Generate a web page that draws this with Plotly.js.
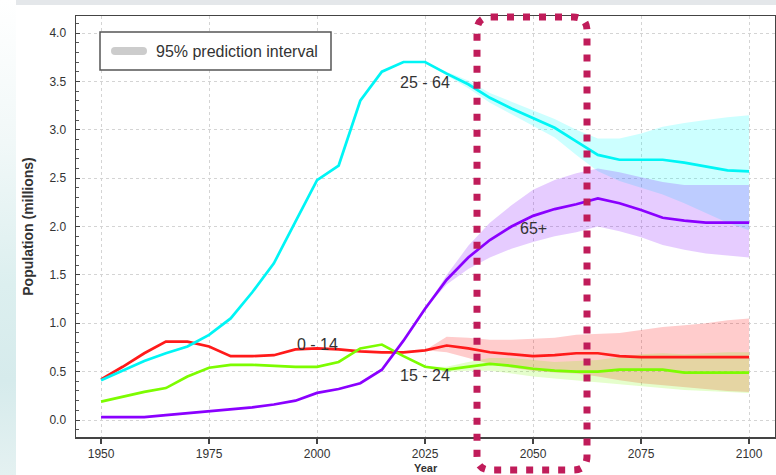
<!DOCTYPE html>
<html>
<head>
<meta charset="utf-8">
<script src="https://cdn.plot.ly/plotly-3.0.1.min.js"></script>
<style>
  html, body { margin: 0; padding: 0; background: #ffffff; }
  #wrap { position: relative; width: 776px; height: 475px; overflow: hidden; }
  #strip { position: absolute; left: 0; top: 0; width: 16px; height: 475px;
    background: linear-gradient(to bottom, #ffffff 0%, #f1f8f8 30%, #dcefef 60%, #d6ebec 80%, #e4f1f1 100%); }
  #topbar { position: absolute; left: 16px; top: 0; width: 760px; height: 5px; background: #e4e7ea; }
  #chart { position: absolute; left: 0; top: 0; width: 776px; height: 475px; }
</style>
</head>
<body>
<div id="wrap">
  <div id="strip"></div>
  <div id="topbar"></div>
  <div id="chart"></div>
</div>
<script>
// Population by age group (millions), estimates and projections
const years = [1950, 1955, 1960, 1965, 1970, 1975, 1980, 1985, 1990, 1995, 2000, 2005, 2010, 2015, 2020,
               2025, 2030, 2035, 2040, 2045, 2050, 2055, 2060, 2065, 2070, 2075, 2080, 2085, 2090, 2095, 2100];

const age0to14 = [0.42, 0.55, 0.69, 0.81, 0.81, 0.76, 0.66, 0.66, 0.67, 0.73, 0.74, 0.73, 0.71, 0.70, 0.70,
                  0.72, 0.77, 0.74, 0.70, 0.68, 0.66, 0.67, 0.69, 0.69, 0.66, 0.65, 0.65, 0.65, 0.65, 0.65, 0.65];
const age15to24 = [0.19, 0.24, 0.29, 0.33, 0.45, 0.54, 0.57, 0.57, 0.56, 0.55, 0.55, 0.60, 0.74, 0.78, 0.66,
                   0.55, 0.52, 0.55, 0.58, 0.56, 0.53, 0.51, 0.50, 0.50, 0.52, 0.52, 0.52, 0.49, 0.49, 0.49, 0.49];
const age25to64 = [0.41, 0.51, 0.61, 0.69, 0.76, 0.88, 1.05, 1.32, 1.62, 2.05, 2.48, 2.63, 3.30, 3.60, 3.70,
                   3.70, 3.58, 3.47, 3.33, 3.22, 3.12, 3.02, 2.88, 2.74, 2.69, 2.69, 2.69, 2.66, 2.62, 2.58, 2.57];
const age65plus = [0.03, 0.03, 0.03, 0.05, 0.07, 0.09, 0.11, 0.13, 0.16, 0.20, 0.28, 0.32, 0.38, 0.52, 0.82,
                   1.15, 1.45, 1.68, 1.86, 2.00, 2.11, 2.18, 2.23, 2.29, 2.24, 2.17, 2.09, 2.06, 2.04, 2.04, 2.04];

// 95% prediction intervals for the projection period
const bandYears = [2025, 2030, 2035, 2040, 2045, 2050, 2055, 2060, 2065, 2070, 2075, 2080, 2085, 2090, 2095, 2100];
const lo0to14  = [0.72, 0.70, 0.64, 0.58, 0.54, 0.51, 0.49, 0.48, 0.45, 0.41, 0.38, 0.36, 0.34, 0.32, 0.30, 0.29];
const hi0to14  = [0.72, 0.86, 0.85, 0.83, 0.83, 0.84, 0.85, 0.88, 0.89, 0.90, 0.93, 0.96, 0.98, 1.00, 1.03, 1.05];
const lo15to24 = [0.55, 0.50, 0.51, 0.51, 0.48, 0.45, 0.43, 0.41, 0.39, 0.37, 0.35, 0.33, 0.31, 0.30, 0.29, 0.28];
const hi15to24 = [0.55, 0.55, 0.60, 0.64, 0.64, 0.62, 0.60, 0.61, 0.62, 0.65, 0.68, 0.69, 0.68, 0.69, 0.70, 0.70];
const lo25to64 = [3.70, 3.56, 3.43, 3.28, 3.16, 3.04, 2.92, 2.74, 2.57, 2.47, 2.40, 2.33, 2.24, 2.14, 2.04, 1.96];
const hi25to64 = [3.70, 3.60, 3.51, 3.38, 3.29, 3.20, 3.11, 3.00, 2.91, 2.91, 2.96, 3.03, 3.07, 3.10, 3.13, 3.15];
const lo65plus = [1.15, 1.40, 1.56, 1.68, 1.77, 1.84, 1.90, 1.94, 2.00, 1.95, 1.89, 1.81, 1.76, 1.72, 1.70, 1.68];
const hi65plus = [1.15, 1.50, 1.80, 2.04, 2.22, 2.38, 2.48, 2.55, 2.60, 2.56, 2.51, 2.46, 2.43, 2.43, 2.43, 2.43];

const groupLabels = ['0 - 14', '15 - 24', '25 - 64', '65+'];
const intervalLabel = '95% prediction interval';
const xTitle = 'Year';
const yTitle = 'Population (millions)';
const xTicks = [1950, 1975, 2000, 2025, 2050, 2075, 2100];

const FONT = '"Liberation Sans", Arial, sans-serif';
const TEXT = '#333333';

// plot-area geometry in pixels
const W = 776, H = 475;
const M = { l: 76, r: 1, t: 16, b: 38 };
const pw = W - M.l - M.r, ph = H - M.t - M.b;
const px = x => (x - M.l) / pw;
const py = y => (H - M.b - y) / ph;

const groups = [
  { name: groupLabels[0], y: age0to14,  lo: lo0to14,  hi: hi0to14,  line: '#ff1a1a', fill: 'rgba(255,0,0,0.2)' },
  { name: groupLabels[1], y: age15to24, lo: lo15to24, hi: hi15to24, line: '#7cfc00', fill: 'rgba(124,252,0,0.2)' },
  { name: groupLabels[2], y: age25to64, lo: lo25to64, hi: hi25to64, line: '#00f5f5', fill: 'rgba(0,255,255,0.2)' },
  { name: groupLabels[3], y: age65plus, lo: lo65plus, hi: hi65plus, line: '#8a00ff', fill: 'rgba(130,0,255,0.2)' }
];

const traces = [];
groups.forEach(g => {
  traces.push({ x: bandYears, y: g.lo, mode: 'lines', line: { width: 0 }, showlegend: false, hoverinfo: 'skip' });
  traces.push({ x: bandYears, y: g.hi, mode: 'lines', line: { width: 0 }, fill: 'tonexty',
                fillcolor: g.fill, showlegend: false, hoverinfo: 'skip' });
});
groups.forEach(g => {
  traces.push({ x: years, y: g.y, name: g.name, mode: 'lines',
                line: { color: g.line, width: 2.7 }, showlegend: false });
});

// rounded-rectangle path in paper coordinates from pixel corners
function roundRect(x0p, y0p, x1p, y1p, r) {
  const a = px(x0p), b = px(x1p), top = py(y0p), bot = py(y1p);
  const rx = r / pw, ry = r / ph;
  return `M ${a + rx},${top} L ${b - rx},${top} Q ${b},${top} ${b},${top - ry} ` +
         `L ${b},${bot + ry} Q ${b},${bot} ${b - rx},${bot} ` +
         `L ${a + rx},${bot} Q ${a},${bot} ${a},${bot + ry} ` +
         `L ${a},${top - ry} Q ${a},${top} ${a + rx},${top} Z`;
}

const shapes = [
  // key box for the shaded intervals
  { type: 'rect', xref: 'paper', yref: 'paper', x0: px(100), x1: px(331), y0: py(70), y1: py(32),
    fillcolor: '#ffffff', line: { color: '#555555', width: 1.5 }, layer: 'above' },
  { type: 'path', xref: 'paper', yref: 'paper', path: roundRect(111, 47, 147, 55, 4),
    fillcolor: '#cccccc', line: { width: 0 }, layer: 'above' },
  // dotted frame around 2040-2060
  { type: 'path', xref: 'paper', yref: 'paper', path: roundRect(477, 17, 587, 470, 14), layer: 'above',
    line: { color: '#c01c5a', width: 7, dash: '7px,9px' } }
];

const labelPos = [[2000, 0.78], [2025, 0.46], [2025, 3.49], [2050, 1.98]];
const annotations = groupLabels.map((t, i) => ({
  x: labelPos[i][0], y: labelPos[i][1], xref: 'x', yref: 'y', text: t, showarrow: false,
  font: { family: FONT, size: 16, color: TEXT }
}));
annotations.push({
  x: px(154), y: py(51), xref: 'paper', yref: 'paper', xanchor: 'left', yanchor: 'middle',
  text: intervalLabel, showarrow: false, font: { family: FONT, size: 16, color: TEXT }
});
// x-axis title at the very bottom of the figure
annotations.push({
  x: 0.5, y: py(475), xref: 'paper', yref: 'paper', xanchor: 'center', yanchor: 'bottom',
  text: '<b>' + xTitle + '</b>', showarrow: false, borderpad: 0,
  font: { family: FONT, size: 11, color: TEXT }
});

const axisCommon = {
  showline: true, mirror: true, linecolor: '#444444', linewidth: 1.5,
  showgrid: true, gridcolor: '#d4d4d4', gridwidth: 1, griddash: 'dot', zeroline: false,
  tickfont: { family: FONT, size: 12, color: TEXT }, tickcolor: '#444444'
};

const layout = {
  width: W, height: H,
  margin: M,
  paper_bgcolor: 'rgba(0,0,0,0)',
  plot_bgcolor: '#ffffff',
  showlegend: false,
  xaxis: Object.assign({}, axisCommon, {
    range: [1944.2, 2106.0], tickmode: 'array', tickvals: xTicks, ticktext: xTicks.map(String),
    ticks: 'outside', ticklen: 5, tickwidth: 1.5, ticklabelstandoff: 0
  }),
  yaxis: Object.assign({}, axisCommon, {
    range: [-0.1757, 4.1757], tick0: 0, dtick: 0.5, tickformat: '.1f',
    ticks: 'inside', ticklen: 4, tickwidth: 1, ticklabelstandoff: 6,
    minor: { dtick: 0.1, ticks: 'inside', ticklen: 3, tickcolor: '#555555', showgrid: false },
    title: { text: yTitle, font: { family: FONT, size: 14, color: TEXT, weight: 'bold' }, standoff: 12 }
  }),
  shapes: shapes,
  annotations: annotations
};

Plotly.newPlot('chart', traces, layout, { displayModeBar: false, staticPlot: true });
</script>
</body>
</html>
